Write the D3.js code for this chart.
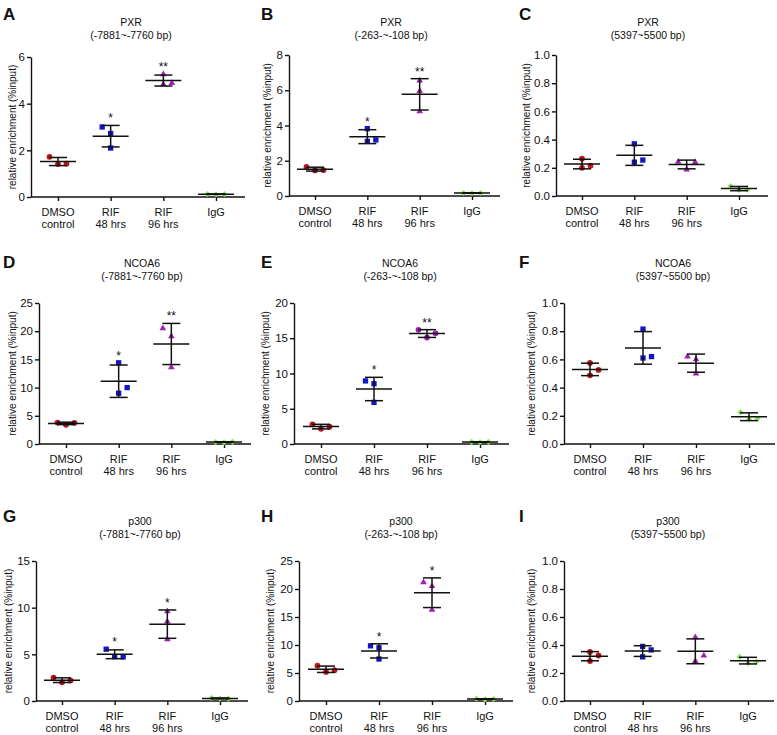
<!DOCTYPE html>
<html><head><meta charset="utf-8">
<script src="https://cdn.jsdelivr.net/npm/d3@7"></script>
<style>
body{margin:0;background:#fff}
text{font-family:Arial,"Liberation Sans",Helvetica,sans-serif;fill:#111}
</style>
</head><body>
<svg id="c" width="777" height="735"></svg>
<script>
// ---------- DATA ----------
const categoriesLine1 = ["DMSO", "RIF", "RIF", "IgG"];
const categoriesLine2 = ["control", "48 hrs", "96 hrs", ""];
const panelLetters = ["A", "B", "C", "D", "E", "F", "G", "H", "I"];
const proteins = ["PXR", "PXR", "PXR", "NCOA6", "NCOA6", "NCOA6", "p300", "p300", "p300"];
const regions = ["(-7881~-7760 bp)", "(-263-~-108 bp)", "(5397~5500 bp)",
                 "(-7881~-7760 bp)", "(-263-~-108 bp)", "(5397~5500 bp)",
                 "(-7881~-7760 bp)", "(-263-~-108 bp)", "(5397~5500 bp)"];
const yMax = [6, 8, 1, 25, 20, 1, 15, 25, 1];
const yTickStep = [2, 2, 0.2, 5, 5, 0.2, 5, 5, 0.2];
const yAxisTitle = "relative enrichment (%input)";

// replicate values (three per group: DMSO control, RIF 48 hrs, RIF 96 hrs, IgG)
const pointsA = [[1.72, 1.41, 1.43], [3.0, 2.72, 2.1], [5.26, 4.83, 4.88], [0.13, 0.11, 0.12]];
const pointsB = [[1.65, 1.45, 1.47], [3.82, 3.10, 3.18], [6.55, 5.95, 4.8], [0.17, 0.16, 0.17]];
const pointsC = [[0.265, 0.20, 0.215], [0.37, 0.24, 0.255], [0.243, 0.24, 0.188], [0.07, 0.043, 0.045]];
const pointsD = [[3.8, 3.4, 3.75], [14.4, 9.0, 10.0], [20.5, 19.1, 13.6], [0.35, 0.3, 0.38]];
const pointsE = [[2.8, 2.15, 2.45], [8.95, 8.55, 5.9], [16.2, 15.1, 15.7], [0.3, 0.25, 0.3]];
const pointsF = [[0.575, 0.487, 0.525], [0.815, 0.61, 0.62], [0.62, 0.60, 0.50], [0.225, 0.175, 0.18]];
const pointsG = [[2.5, 2.0, 2.2], [5.55, 4.75, 4.72], [9.6, 8.5, 6.6], [0.33, 0.25, 0.25]];
const pointsH = [[6.3, 5.2, 5.5], [9.85, 9.5, 7.5], [21.2, 20.5, 16.3], [0.4, 0.3, 0.35]];
const pointsI = [[0.35, 0.285, 0.325], [0.39, 0.315, 0.365], [0.455, 0.325, 0.285], [0.315, 0.27, 0.28]];

// scatter column slot of each replicate (-1 left, 0 centre, 1 right)
const slotsA = [[-1, 0, 1], [-1, 0, 0], [0, 0, 1], [-1, 0, 1]];
const slotsB = [[-1, 0, 1], [0, 0, 1], [0, 0, 0], [-1, 0, 1]];
const slotsC = [[0, 0, 1], [0, 0, 1], [-1, 1, 0], [-1, 0, 1]];
const slotsD = [[-1, 0, 1], [0, 0, 1], [-1, 0, 0], [-1, 0, 1]];
const slotsE = [[-1, 0, 1], [-1, 0, 0], [-1, 0, 1], [-1, 0, 1]];
const slotsF = [[0, 0, 1], [0, 0, 1], [-1, 0, 0], [-1, 0, 1]];
const slotsG = [[-1, 0, 1], [-1, 0, 1], [0, 0, 0], [-1, 0, 1]];
const slotsH = [[-1, 0, 1], [-1, 0, 0], [-1, 0, 0], [-1, 0, 1]];
const slotsI = [[0, 0, 1], [0, 0, 1], [0, 1, 0], [-1, 0, 1]];

const significance = [
  ["", "*", "**", ""], ["", "*", "**", ""], ["", "", "", ""],
  ["", "*", "**", ""], ["", "*", "**", ""], ["", "", "", ""],
  ["", "*", "*", ""], ["", "*", "*", ""], ["", "", "", ""]
];

const allPoints = [pointsA, pointsB, pointsC, pointsD, pointsE, pointsF, pointsG, pointsH, pointsI];
const allSlots = [slotsA, slotsB, slotsC, slotsD, slotsE, slotsF, slotsG, slotsH, slotsI];

// ---------- LAYOUT / STYLE ----------
const layout = [
  {left: 31, right: 245, top: 57, bottom: 197, c0: 58, c1: 216, titleX: 131, t1: 26, t2: 39, labX: 3, labY: 20, ytX: 12},
  {left: 289, right: 500, top: 55, bottom: 196, c0: 315, c1: 472, titleX: 391, t1: 26, t2: 39, labX: 261, labY: 20, ytX: 267},
  {left: 556, right: 768, top: 55, bottom: 196, c0: 582, c1: 739, titleX: 648, t1: 26, t2: 39, labX: 519, labY: 20, ytX: 526},
  {left: 39, right: 251, top: 303, bottom: 444, c0: 66, c1: 224, titleX: 142, t1: 267, t2: 280, labX: 3, labY: 268, ytX: 12},
  {left: 294, right: 509, top: 303, bottom: 444, c0: 321, c1: 480, titleX: 400, t1: 267, t2: 280, labX: 261, labY: 268, ytX: 265},
  {left: 564, right: 775, top: 303, bottom: 444, c0: 590, c1: 749, titleX: 673, t1: 267, t2: 280, labX: 519, labY: 268, ytX: 531},
  {left: 36, right: 248, top: 561, bottom: 701, c0: 62, c1: 220, titleX: 140, t1: 525, t2: 538, labX: 3, labY: 522, ytX: 8},
  {left: 299, right: 513, top: 561, bottom: 701, c0: 326, c1: 485, titleX: 401, t1: 525, t2: 538, labX: 261, labY: 522, ytX: 270},
  {left: 564, right: 774, top: 561, bottom: 701, c0: 590, c1: 748, titleX: 668, t1: 525, t2: 538, labX: 519, labY: 522, ytX: 531}
];
const colors = ["#c1141c", "#1414c8", "#a01fb0", "#8ee35c"];
const shapes = [d3.symbolCircle, d3.symbolSquare, d3.symbolTriangle, d3.symbolSquare];
const shapeSize = [26, 28, 19, 19];
const shapeRot = [0, 0, 0, 45];

const svg = d3.select("#c");

panelLetters.forEach((letter, p) => {
  const L = layout[p];
  const g = svg.append("g");
  const y = d3.scaleLinear().domain([0, yMax[p]]).range([L.bottom, L.top]);
  const x = d3.scalePoint().domain(d3.range(4)).range([L.c0, L.c1]);
  const jitter = d3.scaleLinear().domain([-1, 1]).range([-8.5, 8.5]);
  const fmt = yMax[p] === 1 ? d3.format(".1f") : d3.format("d");

  g.append("text").attr("x", L.labX).attr("y", L.labY)
    .attr("font-size", 17).attr("font-weight", "bold").text(letter);
  g.append("text").attr("x", L.titleX).attr("y", L.t1).attr("text-anchor", "middle")
    .attr("font-size", 10.5).text(proteins[p]);
  g.append("text").attr("x", L.titleX).attr("y", L.t2).attr("text-anchor", "middle")
    .attr("font-size", 10.5).text(regions[p]);
  g.append("text")
    .attr("transform", `translate(${L.ytX},${(L.top + L.bottom) / 2}) rotate(-90)`)
    .attr("text-anchor", "middle").attr("dominant-baseline", "central")
    .attr("font-size", 10).text(yAxisTitle);

  const ticks = d3.range(0, yMax[p] + yTickStep[p] / 2, yTickStep[p]);
  const ya = g.append("g").attr("transform", `translate(${L.left},0)`)
    .call(d3.axisLeft(y).tickValues(ticks).tickFormat(fmt).tickSize(4).tickSizeOuter(0).tickPadding(2));
  ya.selectAll("path,line").attr("stroke", "#111").attr("stroke-width", 1.4);
  ya.selectAll("text").attr("font-size", 11.5).attr("font-family", "Arial, 'Liberation Sans', sans-serif").attr("fill", "#111");

  g.append("line").attr("x1", L.left).attr("x2", L.right).attr("y1", L.bottom).attr("y2", L.bottom)
    .attr("stroke", "#111").attr("stroke-width", 1.4);
  const xa = g.append("g").attr("transform", `translate(0,${L.bottom})`)
    .call(d3.axisBottom(x).tickSize(4).tickSizeOuter(0).tickFormat(() => ""));
  xa.select(".domain").remove();
  xa.selectAll("line").attr("stroke", "#111").attr("stroke-width", 1.4);
  d3.range(4).forEach(c => {
    g.append("text").attr("x", x(c)).attr("y", L.bottom + 19).attr("text-anchor", "middle")
      .attr("font-size", 11).text(categoriesLine1[c]);
    if (categoriesLine2[c]) g.append("text").attr("x", x(c)).attr("y", L.bottom + 31)
      .attr("text-anchor", "middle").attr("font-size", 11).text(categoriesLine2[c]);
  });

  allPoints[p].forEach((vals, c) => {
    const isRound = (p === 4 && c === 2);
    const shape = isRound ? d3.symbolCircle : shapes[c];
    const size = isRound ? 26 : shapeSize[c];
    vals.forEach((v, k) => {
      g.append("path")
        .attr("d", d3.symbol().type(shape).size(size)())
        .attr("transform", `translate(${x(c) + jitter(allSlots[p][c][k])},${y(v)}) rotate(${shapeRot[c]})`)
        .attr("fill", colors[c]);
    });
  });

  allPoints[p].forEach((vals, c) => {
    const m = d3.mean(vals), sd = d3.deviation(vals);
    const cx = x(c);
    const eb = g.append("g").attr("stroke", "#111").attr("stroke-width", 1.5);
    eb.append("line").attr("x1", cx - 18).attr("x2", cx + 18).attr("y1", y(m)).attr("y2", y(m));
    eb.append("line").attr("x1", cx).attr("x2", cx).attr("y1", y(m - sd)).attr("y2", y(m + sd));
    eb.append("line").attr("x1", cx - 9).attr("x2", cx + 9).attr("y1", y(m + sd)).attr("y2", y(m + sd));
    eb.append("line").attr("x1", cx - 9).attr("x2", cx + 9).attr("y1", y(m - sd)).attr("y2", y(m - sd));
    const s = significance[p][c];
    if (s) {
      const topV = Math.max(m + sd, d3.max(vals));
      g.append("text").attr("x", cx).attr("y", y(topV) - 3).attr("text-anchor", "middle")
        .attr("font-size", 12).text(s);
    }
  });
});
</script>
</body></html>
